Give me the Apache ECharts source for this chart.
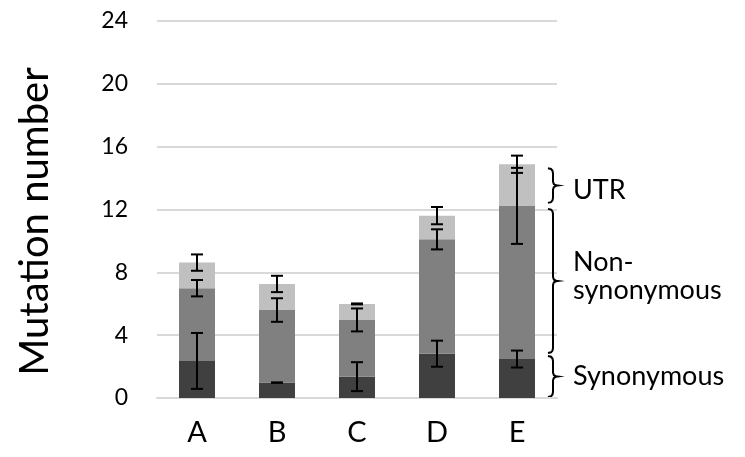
<!DOCTYPE html>
<html><head><meta charset="utf-8">
<script src="https://cdn.jsdelivr.net/npm/echarts@6/dist/echarts.min.js"></script>
<style>html,body{margin:0;padding:0;background:#fff}#c{width:745px;height:457px}</style>
</head><body><div id="c"></div>
<script>
const categories = ['A','B','C','D','E'];
const synonymous = [2.36, 0.98, 1.36, 2.82, 2.48];
const nonSynonymous = [4.63, 4.62, 3.61, 7.28, 9.75];
const utr = [1.63, 1.66, 1.02, 1.51, 2.65];
const synErr = [1.78, 0.0, 0.92, 0.83, 0.54];
const nonSynErr = [0.52, 0.75, 0.73, 0.64, 2.42];
const utrErr = [0.52, 0.52, 0.03, 0.55, 0.55];
const yTicks = [0, 4, 8, 12, 16, 20, 24];

const FONT = 'Lato, "Open Sans", sans-serif';
const chart = echarts.init(document.getElementById('c'), null, {renderer: 'canvas'});

const errData = [];
categories.forEach((c, i) => {
  const s = synonymous[i], n = s + nonSynonymous[i], u = n + utr[i];
  errData.push([i, s, synErr[i]]);
  errData.push([i, n, nonSynErr[i]]);
  errData.push([i, u, utrErr[i]]);
});

function renderErr(params, api) {
  const x = api.value(0), y = api.value(1), e = api.value(2);
  const hi = api.coord([x, y + e]), lo = api.coord([x, y - e]);
  const cw = 6;
  const st = {stroke: '#000', lineWidth: 2};
  return {type: 'group', children: [
    {type: 'line', shape: {x1: hi[0], y1: hi[1], x2: lo[0], y2: lo[1]}, style: st},
    {type: 'line', shape: {x1: hi[0]-cw, y1: hi[1], x2: hi[0]+cw, y2: hi[1]}, style: st},
    {type: 'line', shape: {x1: lo[0]-cw, y1: lo[1], x2: lo[0]+cw, y2: lo[1]}, style: st}
  ]};
}

const option = {
  animation: false,
  backgroundColor: '#fff',
  grid: {left: 157, right: 188, top: 21, bottom: 59},
  xAxis: {
    type: 'category', data: categories,
    axisLine: {show: true, lineStyle: {color: '#d9d9d9', width: 2}},
    axisTick: {show: false},
    axisLabel: {color: '#000', fontSize: 29, fontFamily: FONT, margin: 20}
  },
  yAxis: {
    type: 'value', min: 0, max: 24, interval: 4,
    name: 'Mutation number', nameLocation: 'middle', nameGap: 102, nameRotate: 90,
    nameTextStyle: {color: '#000', fontSize: 40, fontFamily: FONT, padding: [0, 24, 0, 0]},
    axisLine: {show: false}, axisTick: {show: false},
    axisLabel: {color: '#000', fontSize: 23, fontFamily: FONT, margin: 29,
      formatter: v => yTicks.includes(v) ? String(v) : ''},
    splitLine: {lineStyle: {color: '#d9d9d9', width: 2}}
  },
  series: [
    {name: 'Synonymous', type: 'bar', stack: 't', data: synonymous, barWidth: 36, itemStyle: {color: '#404040'}},
    {name: 'Non-synonymous', type: 'bar', stack: 't', data: nonSynonymous, barWidth: 36, itemStyle: {color: '#808080'}},
    {name: 'UTR', type: 'bar', stack: 't', data: utr, barWidth: 36, itemStyle: {color: '#c0c0c0'}},
    {type: 'custom', renderItem: renderErr, data: errData, z: 10}
  ]
};
chart.setOption(option);

function bracePoints(x, y1, y2) {
  const ym = (y1 + y2) / 2;
  return [[x, y1], [x+3, y1+0.7], [x+4.5, y1+2.5], [x+5, y1+5],
          [x+5, ym-4], [x+5.8, ym-1.5], [x+8, ym-0.3], [x+10, ym],
          [x+8, ym+0.3], [x+5.8, ym+1.5], [x+5, ym+4],
          [x+5, y2-5], [x+4.5, y2-2.5], [x+3, y2-0.7], [x, y2]];
}
const last = categories.length - 1;
const s = synonymous[last], n = s + nonSynonymous[last], u = n + utr[last];
const bx = 548;
const py = v => chart.convertToPixel({yAxisIndex: 0}, v);
const braces = [
  [py(s) - 3, py(0) - 1, ['Synonymous'], 0],
  [py(n) + 3, py(s) - 6, ['Non-', 'synonymous'], -5],
  [py(u) + 4, py(n) - 3, ['UTR'], 5]
];
const graphics = [];
braces.forEach(([ya, yb, lines, dy]) => {
  graphics.push({type: 'polyline', shape: {points: bracePoints(bx, ya, yb)},
    style: {stroke: '#000', lineWidth: 2, fill: null}});
  graphics.push({type: 'text', x: 573, y: (ya + yb) / 2 + dy,
    style: {text: lines.join('\n'), font: `27px ${FONT}`, fill: '#000', lineHeight: 28,
      verticalAlign: 'middle', align: 'left'}});
});
chart.setOption({graphic: graphics});
</script></body></html>
